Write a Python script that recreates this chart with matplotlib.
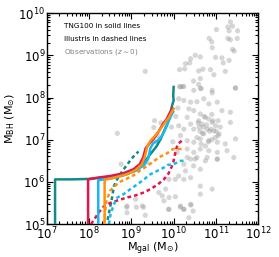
import numpy as np
import matplotlib
matplotlib.use('Agg')
import matplotlib.pyplot as plt

# observations (log10 masses)
obs_lgal = [11.34, 11.39, 11.28, 11.31, 11.51, 11.01, 10.84, 10.90, 11.28, 11.34, 11.50, 10.91, 11.39, 11.43,
            10.51, 10.63, 10.40, 10.99, 11.14, 11.17, 11.31, 10.28, 10.38, 10.14, 10.26, 10.59, 10.69, 10.87,
            10.95, 11.22, 10.47, 10.63, 10.59, 10.14, 10.21, 11.46, 10.65, 10.91, 9.33,
            10.16, 10.24, 10.475, 10.63, 10.91, 11.46, 10.12, 10.24, 10.40, 10.55, 10.71, 10.83, 11.03, 11.14,
            11.34, 10.36, 10.475, 10.63, 10.75, 10.59, 10.67, 10.83, 10.91, 10.99, 10.95, 11.07, 10.79, 10.71,
            10.475, 10.40, 10.32, 10.24, 10.16, 10.32, 10.475, 10.63, 10.83, 11.03, 11.22, 11.46, 11.34, 10.32,
            10.475, 10.63, 10.83, 11.03, 11.26, 10.55, 10.79, 11.03, 11.42, 10.40, 10.12, 10.08,
            10.70, 10.85, 10.90, 10.60, 11.00, 10.75, 10.55, 11.05, 10.65, 10.90, 11.10, 11.05,
            10.32, 10.51, 10.75, 11.03, 10.24, 10.47, 10.63, 10.28, 10.12, 10.24, 10.40, 9.89, 10.04, 10.63,
            10.91, 9.81, 9.73, 9.89, 10.04, 10.63, 9.89, 10.16, 10.24, 10.40,
            8.67, 8.76, 9.10, 9.26, 8.89, 9.53, 9.37, 9.67, 9.65, 9.77, 10.36, 10.46,
            8.90, 9.12, 9.29, 8.90, 9.33, 9.88, 10.16, 10.24, 10.41,
            9.55, 9.62, 9.70, 9.60, 9.95, 10.05, 9.98, 10.10,
            10.68, 10.78, 10.88, 10.58, 10.98, 10.72, 10.82, 10.62, 10.93]
obs_lbh = [9.79, 9.69, 9.67, 9.58, 9.58, 9.61, 9.40, 9.32, 9.40, 9.37, 9.40, 9.18, 9.14, 9.10,
           9.00, 8.96, 8.92, 8.95, 8.94, 8.82, 8.88, 8.80, 8.82, 8.66, 8.68, 8.63, 8.67, 8.66,
           8.54, 8.62, 8.39, 8.45, 8.31, 8.26, 8.26, 8.23, 8.21, 8.17, 8.62,
           8.25, 8.26, 8.17, 8.22, 8.11, 8.22, 7.97, 7.93, 7.89, 7.90, 7.97, 7.85, 7.89, 7.69,
           7.65, 7.73, 7.69, 7.61, 7.53, 7.45, 7.37, 7.49, 7.41, 7.33, 7.21, 7.14, 7.25, 7.14,
           7.25, 7.37, 7.53, 7.25, 7.10, 6.98, 6.94, 7.02, 6.98, 6.94, 6.90, 7.02, 7.41, 6.78,
           6.70, 6.78, 6.74, 6.70, 6.74, 6.58, 6.58, 6.54, 6.58, 6.54, 7.33, 6.70,
           7.30, 7.20, 7.00, 7.30, 7.20, 6.85, 7.05, 7.45, 6.90, 7.60, 7.30, 7.10,
           6.58, 6.54, 6.50, 6.54, 6.42, 6.38, 6.30, 6.26, 6.14, 6.06, 6.10, 6.06, 6.06, 5.90,
           5.83, 5.83, 5.67, 5.63, 5.65, 5.71, 5.35, 5.43, 5.35, 5.47,
           7.15, 6.42, 5.59, 5.43, 5.40, 7.29, 6.46, 7.02, 5.75, 5.55, 5.15, 5.31,
           5.43, 5.40, 5.40, 5.27, 5.21, 5.35, 5.40, 5.35, 5.45,
           7.45, 7.10, 7.40, 6.95, 7.30, 7.55, 6.95, 7.75,
           7.15, 7.35, 7.25, 7.40, 7.05, 7.55, 6.95, 7.20, 7.45]

# TNG100 (solid)
tng_teal_x = [7.2, 7.2, 7.6, 7.98, 8.3, 8.7, 9.0, 9.2, 9.32, 9.42, 9.5, 9.6, 9.7, 9.77, 9.85, 9.92, 9.96, 10.0, 9.99, 10.0]
tng_teal_y = [5.0, 6.06, 6.06, 6.07, 6.1, 6.15, 6.24, 6.35, 6.48, 6.62, 6.72, 6.85, 7.03, 7.2, 7.37, 7.6, 7.8, 7.93, 8.05, 8.25]
tng_red_x = [7.98, 7.98, 8.2, 8.5, 8.8, 9.05, 9.2, 9.28, 9.34, 9.42, 9.53, 9.65, 9.75, 9.83, 9.9, 9.97]
tng_red_y = [5.0, 6.06, 6.1, 6.14, 6.2, 6.3, 6.42, 6.58, 6.8, 6.9, 7.02, 7.2, 7.38, 7.48, 7.62, 7.74]
tng_blue_x = [8.22, 8.22, 8.5, 8.8, 9.1, 9.3, 9.4, 9.45, 9.52, 9.62, 9.7, 9.78, 9.86, 9.93, 9.99]
tng_blue_y = [5.0, 6.04, 6.08, 6.15, 6.26, 6.4, 6.55, 6.8, 6.92, 6.98, 7.05, 7.2, 7.38, 7.55, 7.66]
tng_orange_x = [8.37, 8.37, 8.6, 8.9, 9.1, 9.25, 9.32, 9.38, 9.45, 9.55, 9.65, 9.77, 9.88, 9.95, 10.0]
tng_orange_y = [5.0, 6.05, 6.1, 6.18, 6.28, 6.42, 6.6, 6.85, 6.97, 7.08, 7.2, 7.37, 7.52, 7.65, 7.73]

# Illustris (dashed)
ill_teal_x = [8.44, 8.5, 8.55, 8.59, 8.65, 8.71, 8.82, 8.94, 9.05, 9.17]
ill_teal_y = [5.1, 5.4, 5.65, 5.9, 6.03, 6.14, 6.3, 6.46, 6.6, 6.72]
ill_red_x = [8.05, 8.15, 8.25, 8.35, 8.5, 8.7, 8.9, 9.1, 9.3, 9.45, 9.6, 9.77, 9.88, 9.95, 10.0, 10.05, 10.1, 10.2, 10.24]
ill_red_y = [5.0, 5.15, 5.3, 5.42, 5.5, 5.57, 5.63, 5.68, 5.75, 5.83, 5.92, 6.06, 6.2, 6.35, 6.5, 6.75, 6.9, 6.98, 7.0]
ill_blue_x = [8.47, 8.51, 8.59, 8.67, 8.82, 8.98, 9.14, 9.3, 9.45, 9.61, 9.77, 9.85, 10.0, 10.16, 10.28]
ill_blue_y = [5.0, 5.23, 5.47, 5.63, 5.71, 5.83, 5.94, 6.06, 6.18, 6.26, 6.34, 6.4, 6.42, 6.5, 6.5]
ill_orange_x = [8.36, 8.4, 8.5, 8.63, 8.75, 8.9, 9.06, 9.22, 9.41, 9.57, 9.69, 9.85, 9.92, 9.99, 10.24]
ill_orange_y = [5.0, 5.5, 5.79, 5.92, 6.01, 6.08, 6.16, 6.28, 6.4, 6.52, 6.6, 6.68, 6.74, 6.78, 6.78]

teal = '#138a87'
red = '#e0184a'
blue = '#18b8f0'
orange = '#ff9010'

fig = plt.figure(figsize=(2.79, 2.57), dpi=100)
ax = fig.add_axes([0.167, 0.128, 0.759, 0.821])

ax.scatter(10**np.array(obs_lgal), 10**np.array(obs_lbh), s=14, color='#8c8c8c', alpha=0.35,
           edgecolors='none', zorder=1)

lw = 1.8
dash = (0, (1.5, 1.2))
for xs, ys, c in [(ill_teal_x, ill_teal_y, teal), (ill_red_x, ill_red_y, red),
                  (ill_blue_x, ill_blue_y, blue), (ill_orange_x, ill_orange_y, orange)]:
    ax.plot(10**np.array(xs), 10**np.array(ys), color=c, lw=lw, ls=dash, zorder=2)
for xs, ys, c in [(tng_teal_x, tng_teal_y, teal), (tng_red_x, tng_red_y, red),
                  (tng_blue_x, tng_blue_y, blue), (tng_orange_x, tng_orange_y, orange)]:
    ax.plot(10**np.array(xs), 10**np.array(ys), color=c, lw=lw, zorder=3)

ax.set_xscale('log')
ax.set_yscale('log')
ax.set_xlim(1e7, 1e12)
ax.set_ylim(1e5, 1e10)
ax.tick_params(which='both', direction='in', top=True, right=True, labelsize=8.5, width=0.8, pad=1)
ax.tick_params(which='major', length=4)
ax.tick_params(which='minor', length=2)
for s in ax.spines.values():
    s.set_linewidth(1.0)

ax.set_xlabel(r'M$_{\rm gal}$ (M$_{\odot}$)', fontsize=8, labelpad=-1)
ax.set_ylabel(r'M$_{\rm BH}$ (M$_{\odot}$)', fontsize=8, labelpad=1)

ax.text(0.08, 0.94, 'TNG100 in solid lines', transform=ax.transAxes, fontsize=5.2, va='center')
ax.text(0.08, 0.875, 'Illustris in dashed lines', transform=ax.transAxes, fontsize=5.2, va='center')
ax.text(0.08, 0.814, r'Observations ($z\sim0$)', transform=ax.transAxes, fontsize=5.2, va='center',
        color='#808080')

plt.savefig('out.png', dpi=100)
